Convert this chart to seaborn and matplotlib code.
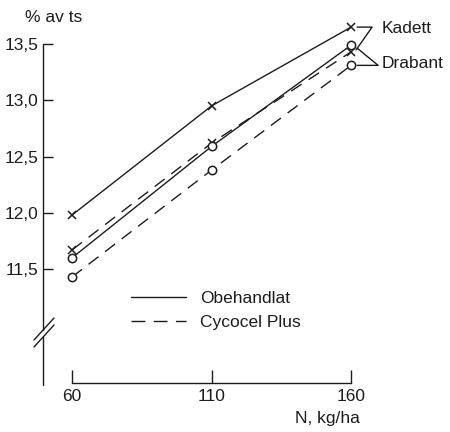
import matplotlib
matplotlib.use("Agg")
import matplotlib.pyplot as plt
from matplotlib.lines import Line2D
import seaborn as sns
import pandas as pd

# ---- data ----
N = [60, 110, 160]
kadett_obehandlat = [11.98, 12.95, 13.65]
kadett_cycocel = [11.67, 12.62, 13.43]
drabant_obehandlat = [11.60, 12.59, 13.49]
drabant_cycocel = [11.43, 12.38, 13.31]
y_ticks = [11.5, 12.0, 12.5, 13.0, 13.5]
y_ticklabels = ["11,5", "12,0", "12,5", "13,0", "13,5"]
x_ticks = [60, 110, 160]
x_ticklabels = ["60", "110", "160"]
legend_labels = ["Obehandlat", "Cycocel Plus"]

sns.set_style("ticks")
plt.rcParams["font.family"] = ["Liberation Sans", "DejaVu Sans"]

INK = "#1c1c1c"
FS = 12.5
W, H = 450, 432

rows = []
for serie, vals, sort, beh in [
    ("Kadett Obehandlat", kadett_obehandlat, "Kadett", "Obehandlat"),
    ("Kadett Cycocel", kadett_cycocel, "Kadett", "Cycocel Plus"),
    ("Drabant Obehandlat", drabant_obehandlat, "Drabant", "Obehandlat"),
    ("Drabant Cycocel", drabant_cycocel, "Drabant", "Cycocel Plus"),
]:
    for n, v in zip(N, vals):
        rows.append({"N": n, "halt": v, "serie": serie, "sort": sort, "beh": beh})
df = pd.DataFrame(rows)

fig = plt.figure(figsize=(W / 100, H / 100), dpi=100)
ax = fig.add_axes([43 / W, (H - 383) / H, 350 / W, 363 / H])
ax.set_xlim(49.6, 175)
ax.set_ylim(10.488, 13.713)

dash = (9, 6)
for serie, mk in [("Kadett Obehandlat", "x"), ("Kadett Cycocel", "x"),
                  ("Drabant Obehandlat", "o"), ("Drabant Cycocel", "o")]:
    sub = df[df["serie"] == serie]
    ls_dashed = "Cycocel" in serie
    sns.lineplot(data=sub, x="N", y="halt", ax=ax, color=INK, lw=1.0,
                 marker=mk, markersize=6 if mk == "o" else 5.5,
                 markerfacecolor="white", markeredgecolor=INK,
                 markeredgewidth=1.1, legend=False,
                 dashes=False, zorder=3 if mk == "o" else 2,
                 **({"linestyle": (0, dash)} if ls_dashed else {}))

# axes styling
ax.spines["top"].set_visible(False)
ax.spines["right"].set_visible(False)
ax.spines["left"].set_visible(False)
ax.spines["bottom"].set_bounds(60, 160)
ax.spines["bottom"].set_color(INK)
ax.spines["bottom"].set_linewidth(1.0)
ax.set_xticks(x_ticks)
ax.set_xticklabels(x_ticklabels)
ax.set_yticks(y_ticks)
ax.set_yticklabels(y_ticklabels)
ax.tick_params(axis="x", direction="in", length=9.5, width=1.0, color=INK,
               labelsize=FS, labelcolor=INK, pad=4)
ax.tick_params(axis="y", direction="in", length=7, width=1.0, color=INK,
               labelsize=FS, labelcolor=INK, pad=3)
ax.set_xlabel("")
ax.set_ylabel("")

# broken y axis drawn by hand
def fig_px(x, y):
    return x / W, 1 - y / H

yt = ax.get_yaxis_transform()
ybreak_top = 11.5 - (330 - 269) / 112.6
ybreak_bot = 11.5 - (337 - 269) / 112.6
ax.plot([0, 0], [13.5, ybreak_top], transform=yt, color=INK, lw=1.0, clip_on=False)
ax.plot([0, 0], [ybreak_bot, 10.47], transform=yt, color=INK, lw=1.0, clip_on=False)
for yc in (330, 337):
    x0, y0 = fig_px(43 - 9, yc + 10)
    x1, y1 = fig_px(43 + 11, yc - 12)
    fig.add_artist(Line2D([x0, x1], [y0, y1], transform=fig.transFigure,
                          color=INK, lw=1.0))

# labels
fig.text(25 / W, 1 - 17 / H, "% av ts", fontsize=FS, color=INK, ha="left", va="center")
fig.text(295 / W, 1 - 418 / H, "N, kg/ha", fontsize=FS, color=INK, ha="left", va="center")

# series labels with connectors
def off(x, y, dx, dy):
    d = ax.transData.transform((x, y))
    return ax.transData.inverted().transform((d[0] + dx, d[1] + dy))

xe = N[-1]
p1 = off(xe, kadett_obehandlat[-1], 6, 0)
p2 = off(xe, kadett_obehandlat[-1], 21, 0)
p3 = off(xe, kadett_cycocel[-1], 5, 2)
ax.plot([p1[0], p2[0], p3[0]], [p1[1], p2[1], p3[1]], color=INK, lw=1.0, clip_on=False)
ax.annotate("Kadett", xy=(xe, kadett_obehandlat[-1]), xytext=(30, -1),
            textcoords="offset pixels", fontsize=FS, color=INK, ha="left", va="center",
            annotation_clip=False)

q1 = off(xe, drabant_cycocel[-1], 6, 0)
q2 = off(xe, drabant_cycocel[-1], 27, 0)
q3 = off(xe, drabant_obehandlat[-1], 6, -3)
ax.plot([q1[0], q2[0], q3[0]], [q1[1], q2[1], q3[1]], color=INK, lw=1.0, clip_on=False)
ax.annotate("Drabant", xy=(xe, drabant_cycocel[-1]), xytext=(30, 2),
            textcoords="offset pixels", fontsize=FS, color=INK, ha="left", va="center",
            annotation_clip=False)

# legend
handles = [Line2D([], [], color=INK, lw=1.0, linestyle="-"),
           Line2D([], [], color=INK, lw=1.0, linestyle=(0, (10, 6)))]
ax.legend(handles, legend_labels, loc="center left",
          bbox_to_anchor=(131 / W, 1 - 310.5 / H), bbox_transform=fig.transFigure,
          frameon=False, borderpad=0, borderaxespad=0, handlelength=3.16,
          handletextpad=0.8, labelspacing=0.55, fontsize=FS, labelcolor=INK)

fig.savefig("out.png", dpi=100, facecolor="white")
